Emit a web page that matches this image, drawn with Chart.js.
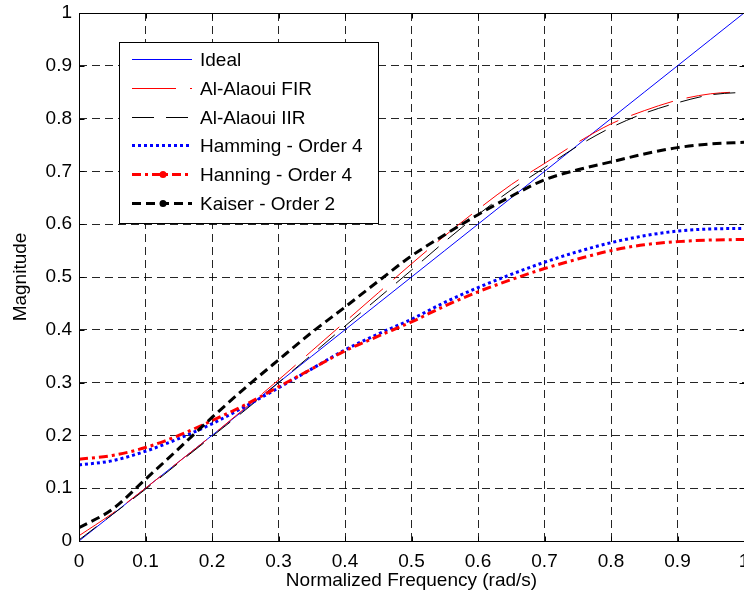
<!DOCTYPE html>
<html>
<head>
<meta charset="utf-8">
<script src="https://cdn.jsdelivr.net/npm/chart.js@4.4.1/dist/chart.umd.min.js"></script>
<style>
html,body{margin:0;padding:0;background:#fff;}
#wrap{width:744px;height:599px;position:relative;}
</style>
</head>
<body>
<div id="wrap"><canvas id="c" width="744" height="599"></canvas></div>
<script>
// ---- data ----
const freq     = [0,0.05,0.1,0.15,0.2,0.25,0.3,0.35,0.4,0.45,0.5,0.55,0.6,0.65,0.7,0.75,0.8,0.85,0.9,0.95,1.0];
const ideal    = [0,0.05,0.1,0.15,0.2,0.25,0.3,0.35,0.4,0.45,0.5,0.55,0.6,0.65,0.7,0.75,0.8,0.85,0.9,0.95,1.0];
const alaouiFIR= [0.01,0.052,0.1,0.15,0.2,0.252,0.305,0.36,0.415,0.47,0.525,0.578,0.628,0.675,0.715,0.755,0.79,0.815,0.835,0.847,0.851];
const alaouiIIR= [0.002,0.05,0.098,0.148,0.198,0.248,0.3,0.353,0.407,0.46,0.513,0.567,0.618,0.665,0.707,0.748,0.783,0.81,0.83,0.845,0.85];
const hamming4 = [0.144,0.152,0.17,0.194,0.222,0.255,0.29,0.326,0.362,0.392,0.42,0.452,0.48,0.505,0.528,0.548,0.565,0.578,0.587,0.591,0.592];
const hanning4 = [0.155,0.162,0.177,0.2,0.228,0.258,0.292,0.326,0.36,0.388,0.415,0.445,0.472,0.495,0.516,0.534,0.55,0.561,0.567,0.57,0.571];
const kaiser2  = [0.025,0.06,0.117,0.175,0.234,0.29,0.343,0.395,0.443,0.492,0.54,0.58,0.618,0.653,0.684,0.703,0.718,0.733,0.745,0.752,0.755];
const seriesNames = ['Ideal','Al-Alaoui FIR','Al-Alaoui IIR','Hamming - Order 4','Hanning - Order 4','Kaiser - Order 2'];
const xTitle = 'Normalized Frequency (rad/s)';
const yTitle = 'Magnitude';

const FONT = '"Liberation Sans", Arial, sans-serif';
const FS = 19;
const pts = ys => freq.map((x,i)=>({x:x,y:ys[i]}));

const styles = [
  {color:'#0000ff', width:1, dash:[], order:5},
  {color:'#ff0000', width:1, dash:[44,14], order:4},
  {color:'#000000', width:1, dash:[22,12], order:3},
  {color:'#0000ff', width:3, dash:[3,3], order:2},
  {color:'#ff0000', width:3, dash:[9,4,3,4], order:1, marker:true},
  {color:'#000000', width:3, dash:[9,5], order:0, marker:true}
];
const allData = [ideal, alaouiFIR, alaouiIIR, hamming4, hanning4, kaiser2];

const datasets = allData.map((d,i)=>({
  label: seriesNames[i],
  data: pts(d),
  borderColor: styles[i].color,
  borderWidth: styles[i].width,
  borderDash: styles[i].dash,
  pointRadius: 0,
  fill: false,
  cubicInterpolationMode: 'monotone',
  order: styles[i].order
}));

const boxPlugin = {
  id:'box',
  afterDatasetsDraw(chart){
    const {ctx, chartArea:a} = chart;
    const L=Math.round(a.left)+0.5, T=Math.round(a.top)+0.5, R=Math.round(a.right)+0.5, B=Math.round(a.bottom)+0.5;
    ctx.save();
    ctx.strokeStyle = '#000';
    ctx.lineWidth = 1;
    ctx.setLineDash([]);
    ctx.strokeRect(L, T, R-L, B-T);
    // inward tick marks
    const tl = 5;
    ctx.beginPath();
    chart.scales.x.ticks.forEach(t=>{
      const px = Math.round(chart.scales.x.getPixelForValue(t.value))+0.5;
      ctx.moveTo(px,B); ctx.lineTo(px,B-tl);
      ctx.moveTo(px,T); ctx.lineTo(px,T+tl);
    });
    chart.scales.y.ticks.forEach(t=>{
      const py = Math.round(chart.scales.y.getPixelForValue(t.value))+0.5;
      ctx.moveTo(L,py); ctx.lineTo(L+tl,py);
      ctx.moveTo(R,py); ctx.lineTo(R-tl,py);
    });
    ctx.stroke();
    ctx.restore();
  }
};

const legendPlugin = {
  id:'mlegend',
  afterDraw(chart){
    const ctx = chart.ctx;
    const bx=119.5, by=42.5, bw=259, bh=181;
    ctx.save();
    ctx.fillStyle='#fff';
    ctx.fillRect(bx,by,bw,bh);
    ctx.strokeStyle='#000'; ctx.lineWidth=1; ctx.setLineDash([]);
    ctx.strokeRect(bx,by,bw,bh);
    const rows=[59,88,117,145,174,203];
    ctx.font = FS+'px ' + FONT;
    ctx.textBaseline='middle';
    ctx.textAlign='left';
    seriesNames.forEach((n,i)=>{
      const s=styles[i], y=rows[i]+0.5;
      ctx.strokeStyle=s.color; ctx.lineWidth=s.width;
      ctx.setLineDash(s.dash);
      ctx.beginPath(); ctx.moveTo(132,y); ctx.lineTo(192,y); ctx.stroke();
      ctx.setLineDash([]);
      if(s.marker){
        ctx.fillStyle=s.color;
        ctx.beginPath(); ctx.arc(163,y,3.5,0,Math.PI*2); ctx.fill();
      }
      ctx.fillStyle='#000';
      ctx.fillText(n,200,y+1);
    });
    ctx.restore();
  }
};

new Chart(document.getElementById('c'), {
  type:'line',
  data:{datasets:datasets},
  plugins:[boxPlugin, legendPlugin],
  options:{
    responsive:false,
    animation:false,
    layout:{padding:{left:0,right:0,top:13,bottom:0}},
    plugins:{legend:{display:false}, tooltip:{enabled:false}},
    scales:{
      x:{
        type:'linear', min:0, max:1,
        afterFit(s){ s.height = 58; s.paddingLeft = 0; s.paddingRight = 0; },
        ticks:{stepSize:0.1, color:'#000', font:{family:FONT,size:FS}, padding:9, maxRotation:0, autoSkip:false,
          callback:v=>String(+v.toFixed(1))},
        grid:{color:'rgba(0,0,0,0.85)', lineWidth:1, drawTicks:false},
        border:{display:false, dash:[8,5]},
        title:{display:true, text:xTitle, color:'#000', font:{family:FONT,size:FS}, padding:{top:0,bottom:7}}
      },
      y:{
        type:'linear', min:0, max:1,
        afterFit(s){ s.width = 79; s.paddingTop = 0; s.paddingBottom = 0; },
        ticks:{stepSize:0.1, color:'#000', font:{family:FONT,size:FS}, padding:7,
          callback:v=>String(+v.toFixed(1))},
        grid:{color:'rgba(0,0,0,0.85)', lineWidth:1, drawTicks:false},
        border:{display:false, dash:[8,5]},
        title:{display:true, text:yTitle, color:'#000', font:{family:FONT,size:FS}, padding:{top:9,bottom:0}}
      }
    }
  }
});
</script>
</body>
</html>
